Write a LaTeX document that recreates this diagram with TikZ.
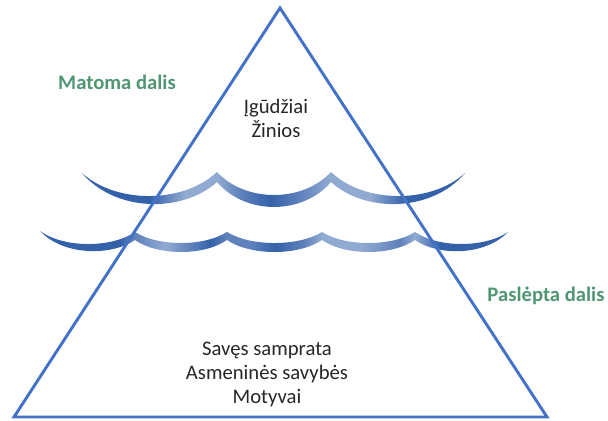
\documentclass[tikz,border=0pt]{standalone}
\usepackage{fontspec}
\setmainfont{Carlito}
\definecolor{triblue}{RGB}{68,114,196}
\definecolor{wdark}{RGB}{52,98,170}
\definecolor{wmid}{RGB}{95,130,188}
\definecolor{wlight}{RGB}{145,170,210}
\definecolor{labgreen}{RGB}{80,150,115}
\pgfdeclarehorizontalshading{upperwave}{100bp}{%
  color(0bp)=(wdark); color(25bp)=(wdark); color(33.9bp)=(wdark);
  color(38.4bp)=(wlight); color(42.6bp)=(wlight); color(45.6bp)=(wmid);
  color(49.5bp)=(wdark); color(53.5bp)=(wmid); color(57.5bp)=(wlight);
  color(62.6bp)=(wlight); color(67.2bp)=(wdark); color(75bp)=(wdark);
  color(100bp)=(wdark)}
\pgfdeclarehorizontalshading{lowerwave}{100bp}{%
  color(0bp)=(wdark); color(25bp)=(wdark); color(33.5bp)=(wdark);
  color(35.1bp)=(wmid); color(38.4bp)=(wlight); color(43.2bp)=(wdark);
  color(45bp)=(wmid); color(47.4bp)=(wmid); color(50.1bp)=(wdark);
  color(53.3bp)=(wmid); color(55.1bp)=(wlight); color(59.2bp)=(wlight);
  color(63.4bp)=(wmid); color(65bp)=(wlight); color(67.7bp)=(wdark);
  color(75bp)=(wdark); color(100bp)=(wdark)}
\tikzset{
  tri/.style={draw=triblue, line width=2.2pt, line join=miter},
  bodytext/.style={font=\fontsize{15.5}{18}\selectfont, align=center, text=black!85},
  sidelabel/.style={font=\fontsize{15.5}{18}\selectfont\bfseries, text=labgreen}
}
\begin{document}
\begin{tikzpicture}[x=0.75pt,y=-0.75pt]
\useasboundingbox (0,0) rectangle (608,421);
% upper wave
\shade[shading=upperwave]
  (82,173) .. controls (116,203.9) and (183,203.9) .. (217,172)
  .. controls (245.5,202.7) and (302.5,202.7) .. (331,172)
  .. controls (364.5,203.9) and (431.5,203.9) .. (465,173)
  .. controls (431.5,212.8) and (364.5,212.8) .. (331,182)
  .. controls (302.5,215.3) and (245.5,215.3) .. (217,182)
  .. controls (183,212.8) and (116,212.8) .. (82,173) -- cycle;
% lower wave
\shade[shading=lowerwave]
  (40,231) .. controls (63.75,248.2) and (111.25,248.2) .. (135,232)
  .. controls (158,246.7) and (204,246.7) .. (227,232)
  .. controls (250.75,246.7) and (298.25,246.7) .. (322,232)
  .. controls (345.25,246.7) and (391.75,246.7) .. (415,232)
  .. controls (438.25,248) and (484.75,248) .. (508,232)
  .. controls (484.75,256.1) and (438.25,256.1) .. (415,240)
  .. controls (391.75,256) and (345.25,256) .. (322,240)
  .. controls (298.25,256) and (250.75,256) .. (227,240)
  .. controls (204,256) and (158,256) .. (135,240)
  .. controls (111.25,256.1) and (63.75,256.1) .. (40,231) -- cycle;
% triangle
\coordinate (apex) at (280,8);
\coordinate (bl) at (14,417);
\coordinate (br) at (547,417);
\draw[tri] (apex) -- (br) -- (bl) -- cycle;
% texts
\node[bodytext] (top) at (276,118) {Įgūdžiai\\Žinios};
\node[bodytext] (bottom) at (267,374) {Savęs samprata\\Asmeninės savybės\\Motyvai};
\node[sidelabel] (visible) at (117,82) {Matoma dalis};
\node[sidelabel] (hidden) at (546,296) {Paslėpta dalis};
\end{tikzpicture}
\end{document}
